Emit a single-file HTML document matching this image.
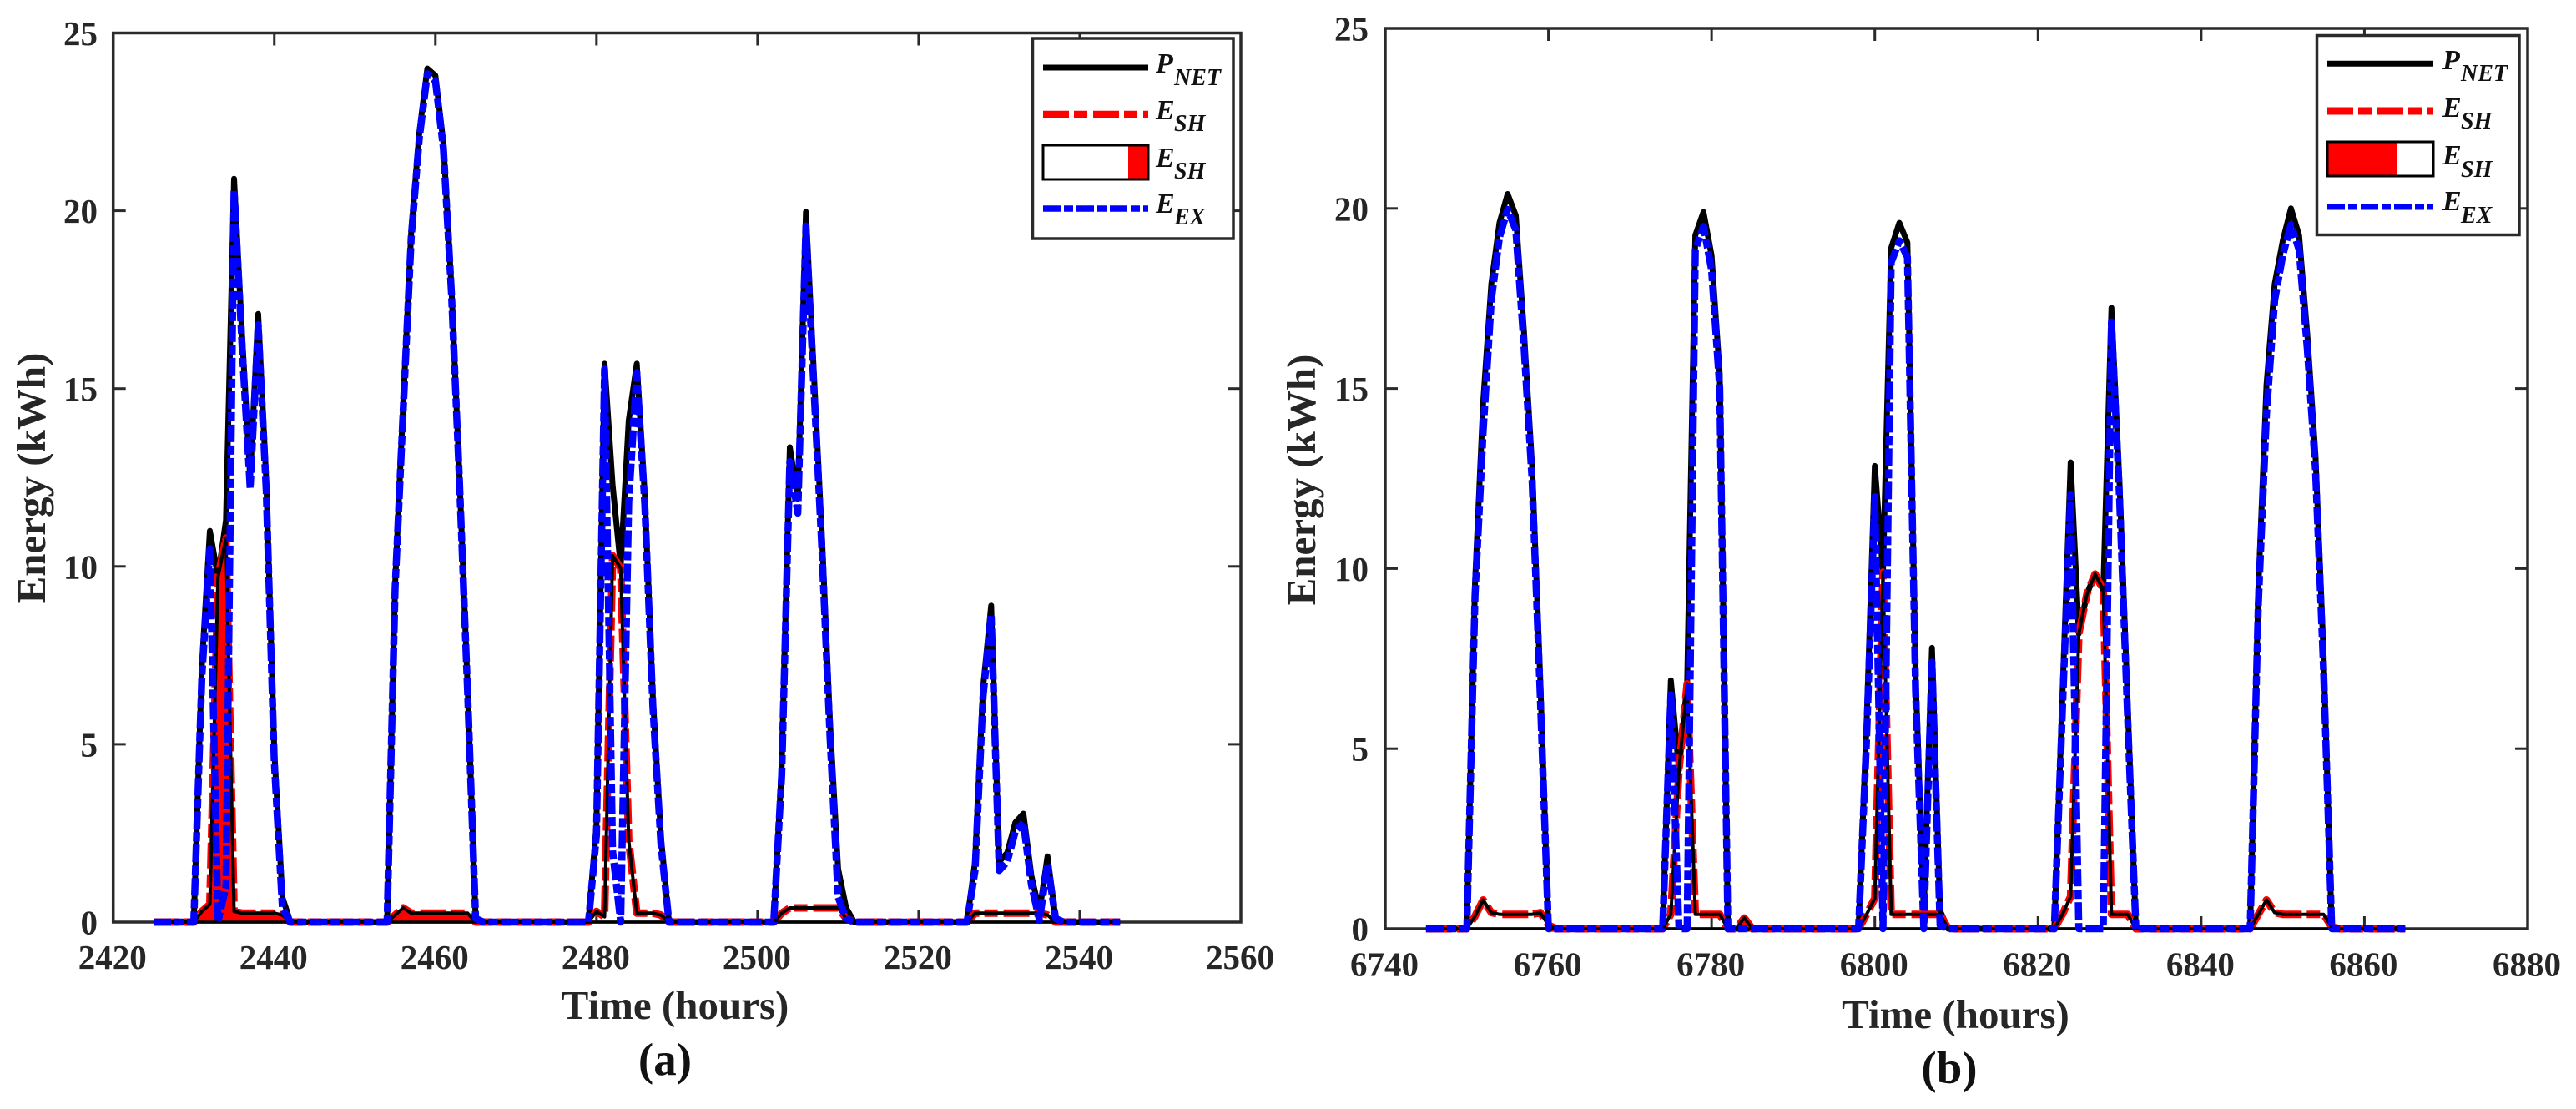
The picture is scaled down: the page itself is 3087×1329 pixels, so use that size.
<!DOCTYPE html>
<html lang="en">
<head>
<meta charset="utf-8">
<title>Energy charts (a) and (b)</title>
<style>
html,body{margin:0;padding:0;background:#fff;width:3087px;height:1329px;overflow:hidden}
svg{display:block}
text{font-family:"Liberation Serif",serif}
</style>
</head>
<body>
<svg id="figure" xmlns="http://www.w3.org/2000/svg" width="3087" height="1329" viewBox="0 0 3087 1329"></svg>
<script>
// ---------- Shared tick values ----------
const yTickValues = [0, 5, 10, 15, 20, 25];
const xTickValuesA = [2420, 2440, 2460, 2480, 2500, 2520, 2540, 2560];
const xTickValuesB = [6740, 6760, 6780, 6800, 6820, 6840, 6860, 6880];

// ---------- Panel (a): hourly values, first hour 2425 ----------
const startHourA = 2425;
const pNetA = [0,0,0,0,0,0, 7.2,11,9.7,11.3,20.9,16.5,12.5,17.1,12.4,4.8,0.7,0,
  0,0,0,0,0,0,0,0,0,0,0,0,
  9.5,14.6,19.4,22.2,24,23.8,21.9,17.8,12.5,6.6,0.1,
  0,0,0,0,0,0,0,0,0,0,0,0,0,0,
  2.75,15.7,12.3,10,14.1,15.7,12,6.3,2.4,0,
  0,0,0,0,0,0,0,0,0,0,0,0,0,
  4.4,13.35,11.9,19.97,15.4,10.8,5.6,1.5,0.4,
  0,0,0,0,0,0,0,0,0,0,0,0,0,0,0,
  1.7,6.6,8.9,1.7,1.95,2.8,3.05,1.3,0.3,1.85,0.1,
  0,0,0,0,0,0,0,0];
const eShA = [0,0,0,0,0,0, 0.3,0.5,9.7,10.8,0.3,0.25,0.25,0.25,0.25,0.25,0.2,0,
  0,0,0,0,0,0,0,0,0,0,0,0,
  0.2,0.4,0.25,0.25,0.25,0.25,0.25,0.25,0.25,0.25,0,
  0,0,0,0,0,0,0,0,0,0,0,0,0,0,
  0.3,0.15,10.3,9.95,2.3,0.25,0.25,0.25,0.2,0,
  0,0,0,0,0,0,0,0,0,0,0,0,0,
  0.25,0.4,0.4,0.4,0.4,0.4,0.4,0.4,0.1,
  0,0,0,0,0,0,0,0,0,0,0,0,0,0,0,
  0.25,0.25,0.25,0.25,0.25,0.25,0.25,0.25,0.25,0.2,0,
  0,0,0,0,0,0,0,0];
const shadedA = [0,0,0,0,0,0, 0.3,0.5,9.7,10.8,0.3,0.25,0.25,0.25,0.25,0.25,0.2,0,
  0,0,0,0,0,0,0,0,0,0,0,0,
  0.2,0.4,0.25,0.25,0.25,0.25,0.25,0.25,0.25,0.25,0];
const eExA = [0,0,0,0,0,0, 6.9,10.5,0,1,20.6,16.2,12.2,16.8,12.1,4.5,0.4,0,
  0,0,0,0,0,0,0,0,0,0,0,0,
  9.4,14.4,19.25,22.05,23.85,23.65,21.75,17.65,12.35,6.45,0.1,
  0,0,0,0,0,0,0,0,0,0,0,0,0,0,
  2.45,15.55,2,0,11.8,15.45,11.75,6.05,2.2,0,
  0,0,0,0,0,0,0,0,0,0,0,0,0,
  4.15,12.95,11.5,19.57,15,10.4,5.2,0.7,0.1,
  0,0,0,0,0,0,0,0,0,0,0,0,0,0,0,
  1.45,6.35,8.65,1.45,1.7,2.55,2.8,1.05,0.05,1.65,0.1,
  0,0,0,0,0,0,0,0];

// ---------- Panel (b): hourly values, first hour 6745 ----------
const startHourB = 6745;
const pNetB = [0,0,0,0,0,0, 9.6,14.6,17.9,19.6,20.4,19.8,16.6,12.85,6.9,0,
  0,0,0,0,0,0,0,0,0,0,0,0,0,0,
  6.9,4.4,6.8,19.25,19.9,18.7,15.4,0,
  0,0,0,0,0,0,0,0,0,0,0,0,0,0,0,0,
  5.7,12.85,9.9,18.9,19.6,19.05,7,0.5,7.8,0.5,0,
  0,0,0,0,0,0,0,0,0,0,0,0,0,
  6.5,12.95,8.2,9.3,9.85,9.4,17.24,12.3,6.2,0,
  0,0,0,0,0,0,0,0,0,0,0,0,0,0,
  9.4,15.1,17.9,19.1,20,19.25,16.5,13.15,7.6,0,
  0,0,0,0,0,0,0,0,0];
const eShB = [0,0,0,0,0,0, 0.35,0.8,0.45,0.4,0.4,0.4,0.4,0.4,0.45,0.1,
  0,0,0,0,0,0,0,0,0,0,0,0,0,0,
  0.4,4.4,6.8,0.4,0.4,0.4,0.4,0,
  0,0.3,0,0,0,0,0,0,0,0,0,0,0,0,0,0,
  0.4,0.85,9.9,0.4,0.4,0.4,0.4,0.4,0.4,0.4,0,
  0,0,0,0,0,0,0,0,0,0,0,0,0,
  0.4,0.9,8.2,9.3,9.85,9.4,0.4,0.4,0.4,0,
  0,0,0,0,0,0,0,0,0,0,0,0,0,0,
  0.4,0.8,0.45,0.4,0.4,0.4,0.4,0.4,0.4,0.05,
  0,0,0,0,0,0,0,0,0];
const shadedB = [];
const eExB = [0,0,0,0,0,0, 9.25,13.8,17.45,19.2,19.97,19.4,16.2,12.45,6.45,0,
  0,0,0,0,0,0,0,0,0,0,0,0,0,0,
  6.5,0,0,18.85,19.5,18.3,15,0,
  0,0,0,0,0,0,0,0,0,0,0,0,0,0,0,0,
  5.3,12,0,18.5,19.1,18.65,6.6,0,7.4,0.1,0,
  0,0,0,0,0,0,0,0,0,0,0,0,0,
  6.1,12.05,0,0,0,0,16.85,11.9,5.8,0,
  0,0,0,0,0,0,0,0,0,0,0,0,0,0,
  9,14.3,17.45,18.7,19.55,18.85,16.1,12.75,7.2,0,
  0,0,0,0,0,0,0,0,0];

const NS = 'http://www.w3.org/2000/svg';
const root = document.getElementById('figure');
const AXIS = '#2a2a2a';

function mk(parent, tag, attrs, txt) {
  const el = document.createElementNS(NS, tag);
  for (const k in attrs) el.setAttribute(k, attrs[k]);
  if (txt !== undefined) el.textContent = txt;
  parent.appendChild(el);
  return el;
}
function pathFrom(values, start, xs, ys) {
  return values.map((v, i) => (i ? 'L' : 'M') + xs(start + i).toFixed(1) + ' ' + ys(v).toFixed(1)).join('');
}

function drawPanel(g, box, xTicks, start, pNet, eSh, shaded, eEx) {
  const xMin = xTicks[0], xMax = xTicks[xTicks.length - 1];
  const xs = h => box.left + (h - xMin) / (xMax - xMin) * (box.right - box.left);
  const ys = v => box.bottom - v / 25 * (box.bottom - box.top);

  const frame = mk(g, 'rect', {x: box.left, y: box.top, width: box.right - box.left, height: box.bottom - box.top, fill: 'none', stroke: AXIS, 'stroke-width': 3.5});
  
  

  xTicks.forEach(t => {
    const x = xs(t);
    const tb = mk(g, 'line', {x1: x, x2: x, y1: box.bottom, y2: box.bottom - 15, stroke: AXIS, 'stroke-width': 3});
    
    
    const tt = mk(g, 'line', {x1: x, x2: x, y1: box.top, y2: box.top + 15, stroke: AXIS, 'stroke-width': 3});
    
    
    const lb = mk(g, 'text', {x: x - 1, y: box.xLabelY, 'text-anchor': 'middle', 'font-size': 41, 'font-weight': 'bold', fill: '#262626'}, String(t));
    
    
  });
  yTickValues.forEach(t => {
    const y = ys(t);
    const tl = mk(g, 'line', {x1: box.left, x2: box.left + 15, y1: y, y2: y, stroke: AXIS, 'stroke-width': 3});
    
    
    const tr = mk(g, 'line', {x1: box.right, x2: box.right - 15, y1: y, y2: y, stroke: AXIS, 'stroke-width': 3});
    
    
    const lb = mk(g, 'text', {x: box.yLabelX, y: y + 14.5, 'text-anchor': 'end', 'font-size': 41, 'font-weight': 'bold', fill: '#262626'}, String(t));
    
    
  });

  // P_NET solid line (lowest layer)
  const black = mk(g, 'path', {d: pathFrom(pNet, start, xs, ys), fill: 'none', stroke: '#000', 'stroke-width': 7, 'stroke-linejoin': 'round'});
  
  

  // E_SH dash-dot line
  const red = mk(g, 'path', {d: pathFrom(eSh, start, xs, ys), fill: 'none', stroke: '#ff0000', 'stroke-width': 9, 'stroke-dasharray': '31 6 16 7', 'stroke-linejoin': 'round'});
  
  

  // Shaded storage area
  if (shaded.length) {
    const d = pathFrom(shaded, start, xs, ys) + 'L' + xs(start + shaded.length - 1).toFixed(1) + ' ' + ys(0) + 'L' + xs(start).toFixed(1) + ' ' + ys(0) + 'Z';
    const area = mk(g, 'path', {d: d, fill: '#ff0000', stroke: 'none'});
    
    
  }
  // E_SH area outline + baseline
  const outline = mk(g, 'path', {d: pathFrom(eSh, start, xs, ys), fill: 'none', stroke: '#000', 'stroke-width': 4, 'stroke-linejoin': 'round'});
  
  
  const base = mk(g, 'line', {x1: xs(start), x2: xs(start + eSh.length - 1), y1: ys(0), y2: ys(0), stroke: '#000', 'stroke-width': 3.5});
  
  

  // E_EX dash-dot line
  const blue = mk(g, 'path', {d: pathFrom(eEx, start, xs, ys), fill: 'none', stroke: '#0000ff', 'stroke-width': 8.5, 'stroke-dasharray': '21 4 11 4', 'stroke-linejoin': 'round'});
  
  

  // Axis titles
  const yt = mk(g, 'text', {x: 0, y: 0, transform: 'translate(' + box.yTitleX + ' ' + box.yTitleY + ') rotate(-90)', 'text-anchor': 'middle', 'font-size': 49, 'font-weight': 'bold', fill: '#262626'}, 'Energy (kWh)');
  
  
  const xt = mk(g, 'text', {x: box.xTitleX, y: box.xTitleY, 'text-anchor': 'middle', 'font-size': 49, 'font-weight': 'bold', fill: '#262626'}, 'Time (hours)');
  
  
  const cap = mk(g, 'text', {x: box.capX, y: box.capY, 'text-anchor': 'middle', 'font-size': 55, 'font-weight': 'bold', fill: '#111'}, box.cap);
  
  

  // Legend
  const L = box.legend;
  const lg = mk(g, 'g', {});
  
  
  mk(lg, 'rect', {x: L.x, y: L.y, width: L.w, height: L.h, fill: '#fff', stroke: AXIS, 'stroke-width': 3.5});
  const e1 = mk(lg, 'line', {x1: L.lx1, x2: L.lx2, y1: L.rows[0], y2: L.rows[0], stroke: '#000', 'stroke-width': 7});
  
  
  const e2 = mk(lg, 'line', {x1: L.lx1, x2: L.lx2, y1: L.rows[1], y2: L.rows[1], stroke: '#ff0000', 'stroke-width': 9, 'stroke-dasharray': '31 6 16 7'});
  
  
  const e3f = mk(lg, 'rect', {x: L.fx, y: L.ry, width: L.fw, height: L.rh, fill: '#ff0000'});
  
  
  const e3 = mk(lg, 'rect', {x: L.lx1, y: L.ry, width: L.lx2 - L.lx1, height: L.rh, fill: 'none', stroke: '#000', 'stroke-width': 3});
  
  
  const e4 = mk(lg, 'line', {x1: L.lx1, x2: L.lx2, y1: L.rows[3], y2: L.rows[3], stroke: '#0000ff', 'stroke-width': 7.5, 'stroke-dasharray': '21 4 11 4'});
  
  
  L.labels.forEach(r => {
    const m = mk(lg, 'text', {x: L.tx, y: r[1], 'font-size': 34, 'font-weight': 'bold', 'font-style': 'italic', fill: '#111'}, r[0]);
    
    
    const s = mk(lg, 'text', {x: L.sx, y: r[3], 'font-size': 28, 'font-weight': 'bold', 'font-style': 'italic', fill: '#111'}, r[2]);
    
    
  });
}

const gA = mk(root, 'g', {});


drawPanel(gA, {
  left: 135.7, right: 1487, top: 39.5, bottom: 1105,
  xLabelY: 1161, yLabelX: 117,
  yTitleX: 54, yTitleY: 573, xTitleX: 809, xTitleY: 1221,
  capX: 797, capY: 1288, cap: '(a)',
  legend: {x: 1237.5, y: 46, w: 240.5, h: 240, lx1: 1250, lx2: 1376, rows: [81, 137.3, 0, 250],
    ry: 174, rh: 41, fx: 1352, fw: 24, tx: 1385, sx: 1407,
    labels: [['P', 87, 'NET', 102], ['E', 143, 'SH', 157], ['E', 200, 'SH', 214], ['E', 255, 'EX', 269]]}
}, xTickValuesA, startHourA, pNetA, eShA, shadedA, eExA);

const gB = mk(root, 'g', {});


drawPanel(gB, {
  left: 1660, right: 3029, top: 34, bottom: 1113,
  xLabelY: 1169.5, yLabelX: 1640,
  yTitleX: 1576, yTitleY: 575, xTitleX: 2343.5, xTitleY: 1232,
  capX: 2336, capY: 1298, cap: '(b)',
  legend: {x: 2776.5, y: 42.5, w: 242.5, h: 239, lx1: 2789, lx2: 2916, rows: [76.3, 133, 0, 247.8],
    ry: 170, rh: 41, fx: 2789, fw: 83, tx: 2927, sx: 2949,
    labels: [['P', 83, 'NET', 97], ['E', 140, 'SH', 154], ['E', 197, 'SH', 212], ['E', 252, 'EX', 267]]}
}, xTickValuesB, startHourB, pNetB, eShB, shadedB, eExB);
</script>
</body>
</html>
